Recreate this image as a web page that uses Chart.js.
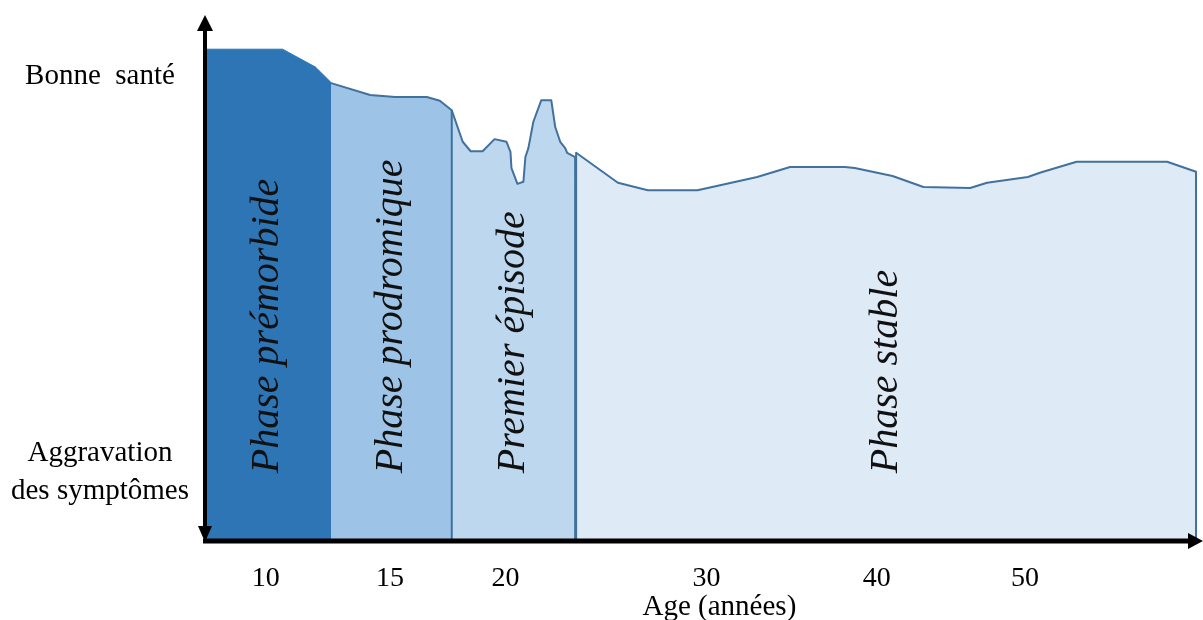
<!DOCTYPE html>
<html>
<head>
<meta charset="utf-8">
<script src="https://cdn.jsdelivr.net/npm/chart.js@4.4.1/dist/chart.umd.min.js"></script>
<style>
  html, body { margin: 0; padding: 0; background: #ffffff; }
  canvas { display: block; }
</style>
</head>
<body>
<canvas id="c" width="1203" height="620"></canvas>
<script>
// ---- Data (x: position along the time axis, 0–100; y: health level, 0 = aggravation, 100 = good health)
const phaseNames = ["Phase prémorbide", "Phase prodromique", "Premier épisode", "Phase stable"];

const premorbidX = [0, 7.8, 11.1, 12.6, 12.6];
const premorbidY = [93.5, 93.5, 90.1, 87.3, 0];

const prodromeX = [12.6, 16.6, 19.1, 22.3, 23.6, 24.8, 24.8];
const prodromeY = [87.1, 84.8, 84.4, 84.4, 83.7, 81.9, 0];

const episodeX = [24.8, 25.9, 26.7, 27.9, 29.1, 30.3, 30.7, 30.8, 31.4, 32.0, 32.2, 32.5, 33.0, 33.8, 34.8, 35.2, 35.7, 36.2, 36.4, 37.2, 37.2];
const episodeY = [81.9, 75.9, 74.1, 74.1, 76.4, 75.9, 74.0, 70.9, 67.9, 68.3, 73.0, 74.7, 79.7, 83.8, 83.8, 78.7, 75.9, 74.7, 73.8, 73.0, 0];

const stableX = [37.3, 37.3, 41.5, 44.5, 49.5, 55.5, 58.8, 64.3, 65.3, 69.1, 72.2, 76.9, 78.6, 82.7, 83.9, 87.6, 96.7, 99.6, 99.6];
const stableY = [0, 73.8, 68.1, 66.7, 66.7, 69.2, 71.1, 71.1, 70.9, 69.4, 67.3, 67.1, 68.1, 69.2, 70.0, 72.1, 72.1, 70.2, 0];

const tickPositions = [6.1, 18.6, 30.2, 50.4, 67.5, 82.4];
const tickLabels = ["10", "15", "20", "30", "40", "50"];
const xTitle = "Age (années)";

const yLabelPositions = [88.6, 13.3];
const yLabels = [["Bonne  santé"], ["Aggravation", "des symptômes"]];

// ---- styles
const fills = ["#2E75B6", "#9DC3E6", "#BDD7EE", "#DEEBF7"];
const edge = "#41719C";

function pts(xs, ys) { return xs.map((x, i) => ({ x: x, y: ys[i] })); }

const phases = [
  [premorbidX, premorbidY],
  [prodromeX, prodromeY],
  [episodeX, episodeY],
  [stableX, stableY]
];

const datasets = phases.map((p, i) => ({
  label: phaseNames[i],
  data: pts(p[0], p[1]),
  backgroundColor: fills[i],
  borderColor: i === 0 ? fills[0] : edge,
  borderWidth: i === 0 ? 1 : 2,
  fill: 'origin',
  tension: 0,
  pointRadius: 0,
  borderJoinStyle: 'round'
}));

const annotate = {
  id: 'annotate',
  afterDatasetsDraw(chart) {
    const ctx = chart.ctx;
    const xs = chart.scales.x, ys = chart.scales.y;
    ctx.save();
    ctx.fillStyle = "#111111";
    ctx.font = "italic 40px 'Liberation Serif', 'DejaVu Serif', serif";
    ctx.textAlign = "left";
    ctx.textBaseline = "middle";
    phases.forEach((p, i) => {
      const x0 = p[0][0], x1 = p[0][p[0].length - 1];
      const cx = xs.getPixelForValue((x0 + x1) / 2);
      const by = ys.getPixelForValue(12.9);
      ctx.save();
      ctx.translate(cx, by);
      ctx.rotate(-Math.PI / 2);
      ctx.fillText(phaseNames[i], 0, 0);
      ctx.restore();
    });
    ctx.restore();
  },
  afterDraw(chart) {
    const ctx = chart.ctx;
    const xs = chart.scales.x, ys = chart.scales.y;
    const area = chart.chartArea;
    const ax = area.left, ay = area.bottom;
    ctx.save();
    ctx.fillStyle = "#000";
    ctx.strokeStyle = "#000";
    // y axis (double arrow)
    ctx.lineWidth = 4;
    ctx.beginPath();
    ctx.moveTo(ax, area.top + 14);
    ctx.lineTo(ax, ay - 12);
    ctx.stroke();
    ctx.beginPath();
    ctx.moveTo(ax, area.top);
    ctx.lineTo(ax - 8, area.top + 16);
    ctx.lineTo(ax + 8, area.top + 16);
    ctx.closePath();
    ctx.fill();
    ctx.beginPath();
    ctx.moveTo(ax, ay + 1);
    ctx.lineTo(ax - 7, ay - 15);
    ctx.lineTo(ax + 7, ay - 15);
    ctx.closePath();
    ctx.fill();
    // x axis
    ctx.lineWidth = 5;
    ctx.beginPath();
    ctx.moveTo(ax - 2, ay);
    ctx.lineTo(chart.width - 12, ay);
    ctx.stroke();
    ctx.beginPath();
    ctx.moveTo(chart.width, ay);
    ctx.lineTo(chart.width - 15, ay - 8);
    ctx.lineTo(chart.width - 15, ay + 8);
    ctx.closePath();
    ctx.fill();

    // tick labels
    ctx.font = "28px 'Liberation Serif', 'Times New Roman', serif";
    ctx.textAlign = "center";
    ctx.textBaseline = "middle";
    tickPositions.forEach((v, i) => {
      ctx.fillText(tickLabels[i], xs.getPixelForValue(v), ay + 38);
    });
    ctx.font = "29px 'Liberation Serif', 'Times New Roman', serif";
    ctx.fillText(xTitle, xs.getPixelForValue(51.7), ay + 66);

    // y labels
    ctx.font = "29px 'Liberation Serif', 'Times New Roman', serif";
    yLabelPositions.forEach((v, i) => {
      const lines = yLabels[i];
      const cy = ys.getPixelForValue(v);
      const lh = 38;
      lines.forEach((t, j) => {
        ctx.fillText(t, 100, cy + (j - (lines.length - 1) / 2) * lh + 1);
      });
    });
    ctx.restore();
  }
};

new Chart(document.getElementById('c'), {
  type: 'line',
  data: { datasets: datasets },
  options: {
    responsive: false,
    animation: false,
    layout: { padding: { left: 205, right: 3, top: 15, bottom: 79 } },
    plugins: { legend: { display: false }, tooltip: { enabled: false } },
    scales: {
      x: { type: 'linear', min: 0, max: 100, display: false },
      y: { type: 'linear', min: 0, max: 100, display: false }
    }
  },
  plugins: [annotate]
});
</script>
</body>
</html>
